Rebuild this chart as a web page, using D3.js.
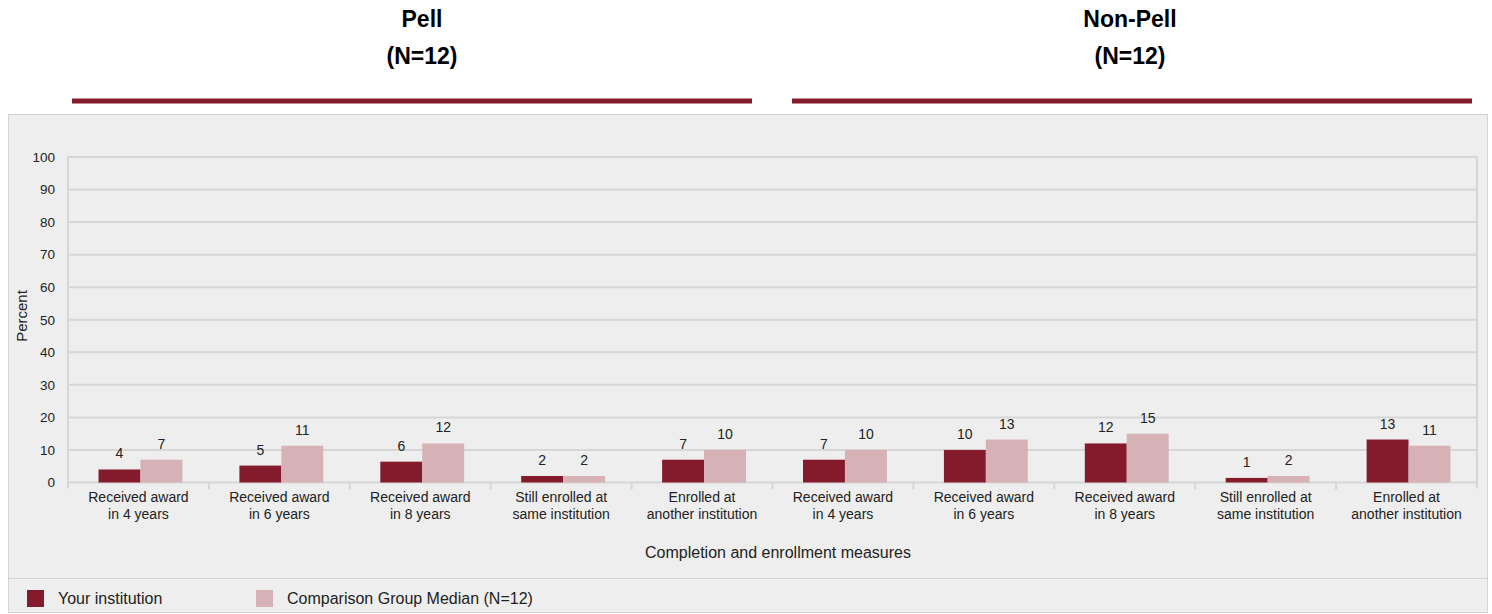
<!DOCTYPE html>
<html><head><meta charset="utf-8">
<script src="https://cdn.jsdelivr.net/npm/d3@7"></script>
<style>body{margin:0;background:#fff;font-family:"Liberation Sans",Arial,sans-serif;}</style>
</head><body>
<svg id="c" width="1492" height="614" font-family="Liberation Sans, Arial, sans-serif"></svg>
<script>
const categories = ["Received award|in 4 years","Received award|in 6 years","Received award|in 8 years","Still enrolled at|same institution","Enrolled at|another institution",
"Received award|in 4 years","Received award|in 6 years","Received award|in 8 years","Still enrolled at|same institution","Enrolled at|another institution"];
const yourInstitution = [4, 5.2, 6.4, 2, 7, 7, 10, 12, 1.4, 13.2];
const comparisonMedian = [7, 11.3, 12, 2, 10, 10, 13.2, 15, 2, 11.3];
const yourLabels = ["4","5","6","2","7","7","10","12","1","13"];
const compLabels = ["7","11","12","2","10","10","13","15","2","11"];
const yTicks = [0,10,20,30,40,50,60,70,80,90,100];
const groups = [{title:"Pell", n:"(N=12)"},{title:"Non-Pell", n:"(N=12)"}];
const seriesNames = ["Your institution","Comparison Group Median (N=12)"];
const colors = ["#841b2d","#d6b1b6"];

const svg = d3.select("#c");
const L=68, R=1477, T=157, B=482.5;
// panel
svg.append("rect").attr("x",8.5).attr("y",114.5).attr("width",1479).attr("height",498).attr("fill","#eeeeee").attr("stroke","#d4d4d4");
svg.append("line").attr("x1",8.5).attr("x2",1487.5).attr("y1",578.5).attr("y2",578.5).attr("stroke","#d4d4d4");

// group headers
const gx = d3.scaleBand().domain([0,1]).range([72,1472]).paddingInner(0.0556).paddingOuter(0);
const titleShift = [10,-2];
groups.forEach((g,i)=>{
  const cx = gx(i)+gx.bandwidth()/2 + titleShift[i];
  svg.append("text").attr("x",cx).attr("y",27).attr("text-anchor","middle").attr("font-weight","bold").attr("font-size",23).attr("fill","#000").text(g.title);
  svg.append("text").attr("x",cx).attr("y",64).attr("text-anchor","middle").attr("font-weight","bold").attr("font-size",23).attr("fill","#000").text(g.n);
  svg.append("rect").attr("x",gx(i)).attr("y",98.5).attr("width",gx.bandwidth()).attr("height",5).attr("fill","#841b2d");
});

const x = d3.scaleBand().domain(d3.range(categories.length)).range([L,R]).paddingInner(0).paddingOuter(0);
const y = d3.scaleLinear().domain([0,100]).range([B,T]);

// gridlines
svg.append("g").selectAll("line").data(yTicks).join("line")
  .attr("x1",L).attr("x2",R).attr("y1",d=>y(d)).attr("y2",d=>y(d)).attr("stroke","#d6d6d6").attr("stroke-width",2);
// y axis
const ya = svg.append("g").attr("transform",`translate(${L},0)`).call(d3.axisLeft(y).tickValues(yTicks).tickSize(0).tickPadding(13));
ya.select(".domain").remove();
ya.selectAll("text").attr("font-size",13.5).attr("fill","#222").attr("font-family","Liberation Sans, Arial, sans-serif");
svg.append("line").attr("x1",L).attr("x2",L).attr("y1",T-1).attr("y2",B+6).attr("stroke","#d6d6d6").attr("stroke-width",2);
svg.append("line").attr("x1",R).attr("x2",R).attr("y1",T-1).attr("y2",B+6).attr("stroke","#d6d6d6").attr("stroke-width",2);
// category separators
svg.append("g").selectAll("line").data(d3.range(1,categories.length)).join("line")
  .attr("x1",d=>x(d)).attr("x2",d=>x(d)).attr("y1",B).attr("y2",B+7).attr("stroke","#d6d6d6").attr("stroke-width",2);

// bars
const inner = d3.scaleBand().domain([0,1]).range([2,x.bandwidth()+2]).paddingOuter(0.68).paddingInner(0);
const data = categories.map((c,i)=>({i, vals:[yourInstitution[i],comparisonMedian[i]], labs:[yourLabels[i],compLabels[i]]}));
const gg = svg.append("g").selectAll("g").data(data).join("g").attr("transform",d=>`translate(${x(d.i)},0)`);
gg.selectAll("rect").data(d=>d.vals.map((v,k)=>({v,k}))).join("rect")
  .attr("x",d=>inner(d.k)).attr("width",inner.bandwidth()).attr("y",d=>y(d.v)).attr("height",d=>B-y(d.v)).attr("fill",d=>colors[d.k]);
gg.selectAll("text.v").data(d=>d.vals.map((v,k)=>({v,k,l:d.labs[k]}))).join("text").attr("class","v")
  .attr("x",d=>inner(d.k)+inner.bandwidth()/2).attr("y",d=>y(d.v)-11).attr("text-anchor","middle").attr("font-size",14).attr("fill","#222").text(d=>d.l);

// category labels
const cl = svg.append("g").selectAll("text").data(categories).join("text")
  .attr("x",(d,i)=>x(i)+x.bandwidth()/2).attr("y",502).attr("text-anchor","middle").attr("font-size",14).attr("fill","#222");
cl.selectAll("tspan").data(d=>d.split("|")).join("tspan").attr("x",function(){return this.parentNode.getAttribute("x");}).attr("dy",(d,i)=>i?16.5:0).text(d=>d);

// axis titles
svg.append("text").attr("x",778).attr("y",558).attr("text-anchor","middle").attr("font-size",16).attr("fill","#222").text("Completion and enrollment measures");
svg.append("text").attr("transform","translate(27,316) rotate(-90)").attr("text-anchor","middle").attr("font-size",15).attr("fill","#222").text("Percent");

// legend
const lx=[27,256];
seriesNames.forEach((s,i)=>{
  svg.append("rect").attr("x",lx[i]).attr("y",590).attr("width",17).attr("height",17).attr("fill",colors[i]);
  svg.append("text").attr("x",lx[i]+31).attr("y",604).attr("font-size",16).attr("fill","#222").text(s);
});
</script>
</body></html>
